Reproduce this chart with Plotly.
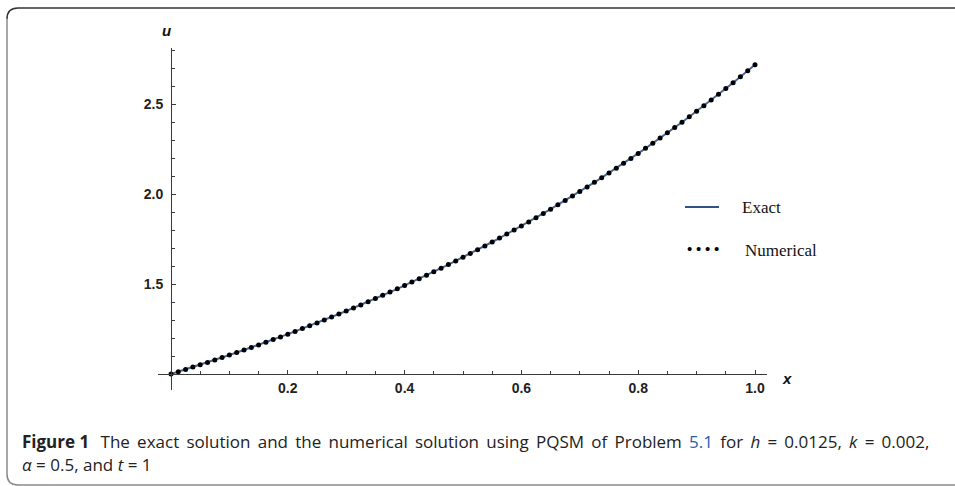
import plotly.graph_objects as go

# ---- data ----
x_vals = [0.0, 0.0125, 0.025, 0.0375, 0.05, 0.0625, 0.075, 0.0875, 0.1, 0.1125,
          0.125, 0.1375, 0.15, 0.1625, 0.175, 0.1875, 0.2, 0.2125, 0.225, 0.2375,
          0.25, 0.2625, 0.275, 0.2875, 0.3, 0.3125, 0.325, 0.3375, 0.35, 0.3625,
          0.375, 0.3875, 0.4, 0.4125, 0.425, 0.4375, 0.45, 0.4625, 0.475, 0.4875,
          0.5, 0.5125, 0.525, 0.5375, 0.55, 0.5625, 0.575, 0.5875, 0.6, 0.6125,
          0.625, 0.6375, 0.65, 0.6625, 0.675, 0.6875, 0.7, 0.7125, 0.725, 0.7375,
          0.75, 0.7625, 0.775, 0.7875, 0.8, 0.8125, 0.825, 0.8375, 0.85, 0.8625,
          0.875, 0.8875, 0.9, 0.9125, 0.925, 0.9375, 0.95, 0.9625, 0.975, 0.9875, 1.0]

u_exact = [1.0000, 1.0126, 1.0253, 1.0382, 1.0513, 1.0645, 1.0779, 1.0914, 1.1052, 1.1191,
           1.1331, 1.1474, 1.1618, 1.1764, 1.1912, 1.2062, 1.2214, 1.2368, 1.2523, 1.2681,
           1.2840, 1.3002, 1.3165, 1.3331, 1.3499, 1.3668, 1.3840, 1.4014, 1.4191, 1.4369,
           1.4550, 1.4733, 1.4918, 1.5106, 1.5296, 1.5488, 1.5683, 1.5880, 1.6080, 1.6282,
           1.6487, 1.6695, 1.6905, 1.7117, 1.7333, 1.7551, 1.7771, 1.7995, 1.8221, 1.8450,
           1.8682, 1.8917, 1.9155, 1.9396, 1.9640, 1.9887, 2.0138, 2.0391, 2.0647, 2.0907,
           2.1170, 2.1436, 2.1706, 2.1979, 2.2255, 2.2535, 2.2819, 2.3106, 2.3396, 2.3690,
           2.3989, 2.4290, 2.4596, 2.4905, 2.5219, 2.5536, 2.5857, 2.6182, 2.6512, 2.6845, 2.7183]

u_numerical = [1.0000, 1.0126, 1.0253, 1.0382, 1.0513, 1.0645, 1.0779, 1.0914, 1.1052, 1.1191,
               1.1331, 1.1474, 1.1618, 1.1764, 1.1912, 1.2062, 1.2214, 1.2368, 1.2523, 1.2681,
               1.2840, 1.3002, 1.3165, 1.3331, 1.3499, 1.3668, 1.3840, 1.4014, 1.4191, 1.4369,
               1.4550, 1.4733, 1.4918, 1.5106, 1.5296, 1.5488, 1.5683, 1.5880, 1.6080, 1.6282,
               1.6487, 1.6695, 1.6905, 1.7117, 1.7333, 1.7551, 1.7771, 1.7995, 1.8221, 1.8450,
               1.8682, 1.8917, 1.9155, 1.9396, 1.9640, 1.9887, 2.0138, 2.0391, 2.0647, 2.0907,
               2.1170, 2.1436, 2.1706, 2.1979, 2.2255, 2.2535, 2.2819, 2.3106, 2.3396, 2.3690,
               2.3989, 2.4290, 2.4596, 2.4905, 2.5219, 2.5536, 2.5857, 2.6182, 2.6512, 2.6845, 2.7183]

x_tickvals = [0.2, 0.4, 0.6, 0.8, 1.0]
x_ticktext = ["0.2", "0.4", "0.6", "0.8", "1.0"]
y_tickvals = [1.5, 2.0, 2.5]
y_ticktext = ["1.5", "2.0", "2.5"]
x_minor = [0.05, 0.1, 0.15, 0.25, 0.3, 0.35, 0.45, 0.5, 0.55, 0.65, 0.7, 0.75, 0.85, 0.9, 0.95]
y_minor = [1.1, 1.2, 1.3, 1.4, 1.6, 1.7, 1.8, 1.9, 2.1, 2.2, 2.3, 2.4, 2.6, 2.7, 2.8]

series_names = ["Exact", "Numerical"]

# ---- layout geometry (pixels) ----
W, H = 955, 486
L, R, T, B = 158, 188, 48, 96
PW, PH = W - L - R, H - T - B
X_RANGE = [-13 / 584, (PW - 13) / 584]
Y_RANGE = [1 - 16 / 180, 1 + (PH - 16) / 180]


def px(x):
    return (x - L) / PW


def py(y):
    return (H - B - y) / PH


AX = "#3a3a3a"
LINE_BLUE = "#46699a"
TICKFONT = dict(family="Liberation Sans, Arial", size=14, color="#222", weight="bold")

fig = go.Figure()
fig.add_trace(go.Scatter(x=x_vals, y=u_exact, mode="lines", name=series_names[0],
                         line=dict(color=LINE_BLUE, width=2), showlegend=False))
fig.add_trace(go.Scatter(x=x_vals, y=u_numerical, mode="markers", name=series_names[1],
                         marker=dict(color="black", size=5), showlegend=False))

fig.update_layout(
    width=W, height=H,
    margin=dict(l=L, r=R, t=T, b=B),
    paper_bgcolor="white", plot_bgcolor="white",
    xaxis=dict(range=X_RANGE, anchor="free", position=16 / PH,
               showgrid=False, zeroline=False, showline=True, linecolor=AX, linewidth=1,
               tickmode="array", tickvals=x_tickvals, ticktext=x_ticktext,
               ticks="inside", ticklen=4, tickcolor=AX, tickwidth=1,
               minor=dict(tickmode="array", tickvals=x_minor, ticks="inside", ticklen=3,
                          tickcolor=AX, tickwidth=1, showgrid=False),
               tickfont=TICKFONT, ticklabelstandoff=1),
    yaxis=dict(range=Y_RANGE, anchor="free", position=13 / PW,
               showgrid=False, zeroline=False, showline=True, linecolor=AX, linewidth=1,
               tickmode="array", tickvals=y_tickvals, ticktext=y_ticktext,
               ticks="inside", ticklen=4, tickcolor=AX, tickwidth=1,
               minor=dict(tickmode="array", tickvals=y_minor, ticks="inside", ticklen=3,
                          tickcolor=AX, tickwidth=1, showgrid=False),
               tickfont=TICKFONT, ticklabelstandoff=5),
    showlegend=False,
)


def note(x, y, text, font, xanchor="center"):
    return dict(x=px(x), y=py(y), xref="paper", yref="paper", text=text, showarrow=False,
                xanchor=xanchor, yanchor="middle", font=font)


annots = []
AXLAB = dict(family="Liberation Sans, Arial", size=15, color="#111")
annots.append(note(166, 30, "<b><i>u</i></b>", AXLAB))
annots.append(note(787, 378, "<b><i>x</i></b>", AXLAB))
LEGFONT = dict(family="Liberation Serif, Times New Roman", size=17, color="#111")
annots.append(note(740, 207, series_names[0], LEGFONT, "left"))
annots.append(note(743, 250, series_names[1], LEGFONT, "left"))
annots.append(note(703, 249, "<b>• • • •</b>",
                   dict(family="Liberation Serif, Times New Roman", size=15, color="black")))

# caption (first line is justified in the reference: slightly widened word gaps)
CAPFONT = dict(family="Open Sans, sans-serif", size=17, color="#222")
cap_words = ["The", "exact", "solution", "and", "the", "numerical", "solution", "using", "PQSM",
             "of", "Problem", "<span style='color:#1f5fae'>5.1</span>", "for", "<i>h</i>", "=",
             "0.0125,", "<i>k</i>", "=", "0.002,"]
GAP = " \u2009"
line1 = "<b>Figure 1</b>\u2002\u2009" + GAP.join(cap_words)
annots.append(note(20, 441, line1, CAPFONT, "left"))
annots.append(note(20, 464, "<i>α</i> = 0.5, and <i>t</i> = 1", CAPFONT, "left"))
fig.update_layout(annotations=annots)

shapes = []
shapes.append(dict(type="line", xref="paper", yref="paper", x0=px(685), x1=px(719),
                   y0=py(207), y1=py(207), line=dict(color="#2f5483", width=2)))
shapes.append(dict(type="path", xref="paper", yref="paper",
                   path=f"M {px(960)},{py(8)} L {px(18)},{py(8)} Q {px(7)},{py(8)} {px(7)},{py(19)}",
                   line=dict(color="#333", width=1.5)))
shapes.append(dict(type="path", xref="paper", yref="paper",
                   path=f"M {px(7)},{py(19)} L {px(7)},{py(474)} Q {px(7)},{py(485)} {px(18)},{py(485)} L {px(960)},{py(485)}",
                   line=dict(color="#8a8a8a", width=1.5)))
fig.update_layout(shapes=shapes)

fig.write_html("out.html", config={"displayModeBar": False},
               post_script="document.body.style.margin='0';")
